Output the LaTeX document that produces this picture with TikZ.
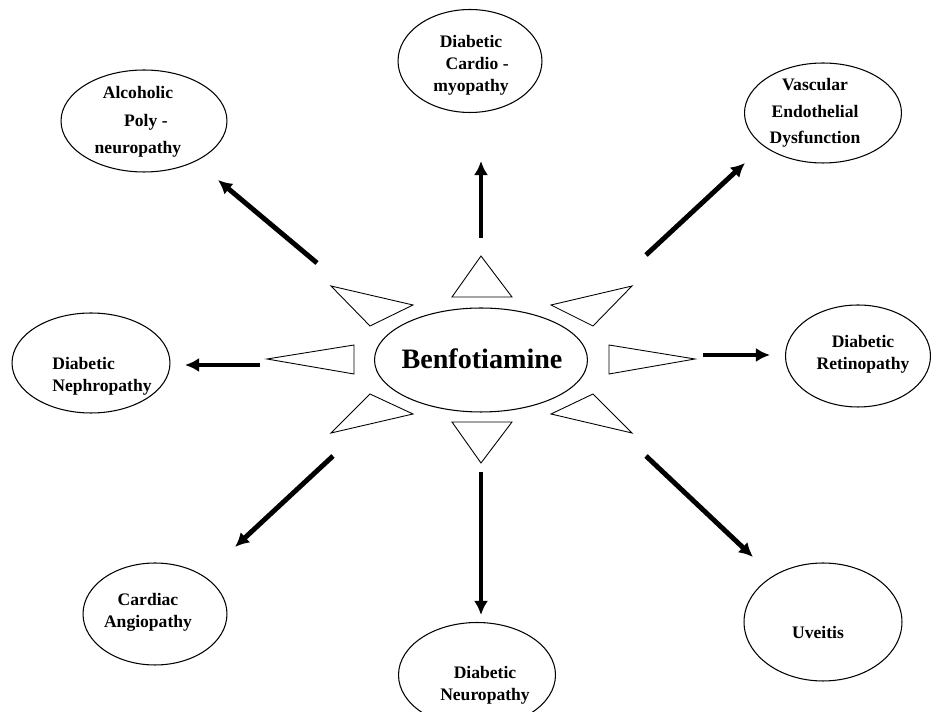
\documentclass[tikz,border=0pt]{standalone}
\usepackage{fontspec}
\setmainfont{Liberation Serif}
\usetikzlibrary{arrows.meta,shapes.geometric}

\begin{document}
\begin{tikzpicture}[x=0.02cm, y=-0.02cm,
	blob/.style={draw, ellipse, line width=0.6pt, inner sep=0pt},
	txt/.style={font=\fontsize{10}{12.5}\selectfont\bfseries, align=center, inner sep=0pt},
	zacke/.style={draw, line width=0.5pt, line join=miter},
	pfeil/.style={line width=2.8pt, -{Latex[length=8pt, width=8pt]}}]
	\useasboundingbox (0,0) rectangle (931,712);
	
	\node[blob, minimum width=4.26cm, minimum height=2.08cm] (mitteE) at (481,360) {};%Zentrum
	\node[font=\fontsize{16}{18}\selectfont\bfseries, inner sep=0pt] (benfo) at (482,359) {Benfotiamine};
	
	%Zacken
	\draw[zacke] (481,256) -- (452,297) -- (512,297) -- cycle;%oben
	\draw[zacke] (331,286) -- (413,305) -- (370,326) -- cycle;%oben links
	\draw[zacke] (632,286) -- (551,305) -- (593,326) -- cycle;%oben rechts
	\draw[zacke] (267,359) -- (354,345) -- (354,374) -- cycle;%links
	\draw[zacke] (695,359) -- (609,345) -- (609,374) -- cycle;%rechts
	\draw[zacke] (331,433) -- (413,414) -- (370,394) -- cycle;%unten links
	\draw[zacke] (632,433) -- (551,414) -- (593,394) -- cycle;%unten rechts
	\draw[zacke] (481,463) -- (452,422) -- (512,422) -- cycle;%unten
	
	%Ellipsen aussen
	\node[blob, minimum width=3.32cm, minimum height=2.04cm] (alcE) at (144,121) {};
	\node[txt] (alc) at (138,122) {Alcoholic\\[3pt]\hspace*{0.9em}Poly -\\[3pt]neuropathy};
	\node[blob, minimum width=2.88cm, minimum height=2.06cm] (cardioE) at (470,61) {};
	\node[txt] (cardio) at (471,65) {Diabetic\\\hspace*{0.7em}Cardio -\\myopathy};
	\node[blob, minimum width=3.14cm, minimum height=2cm] (vascE) at (823,113) {};
	\node[txt] (vasc) at (815,113) {Vascular\\[2.5pt]Endothelial\\[2.5pt]Dysfunction};
	\node[blob, minimum width=3.16cm, minimum height=2cm] (nephE) at (91,363) {};
	\node[txt, align=left] (neph) at (102,376) {Diabetic\\Nephropathy};
	\node[blob, minimum width=2.9cm, minimum height=2.04cm] (retE) at (858,356) {};
	\node[txt] (ret) at (863,354) {Diabetic\\Retinopathy};
	\node[blob, minimum width=2.88cm, minimum height=2.04cm] (cardiacE) at (155,614) {};
	\node[txt] (cardiac) at (148,612) {Cardiac\\Angiopathy};
	\node[blob, minimum width=3.16cm, minimum height=2.36cm] (uvE) at (823,622) {};
	\node[txt] (uv) at (818,632) {Uveitis};
	\node[blob, minimum width=3.14cm, minimum height=2.1cm] (neuroE) at (477,675) {};
	\node[txt] (neuro) at (485,685) {Diabetic\\Neuropathy};
	
	%Pfeile
	\coordinate (oA) at (481,238); \coordinate (oB) at (481,161);
	\coordinate (olA) at (317,263); \coordinate (olB) at (218,180);
	\coordinate (orA) at (646,255); \coordinate (orB) at (745,163);
	\coordinate (lA) at (260,365); \coordinate (lB) at (185,365);
	\coordinate (rA) at (703,355); \coordinate (rB) at (770,355);
	\coordinate (ulA) at (333,456); \coordinate (ulB) at (235,547);
	\coordinate (urA) at (646,456); \coordinate (urB) at (753,557);
	\coordinate (uA) at (481,472); \coordinate (uB) at (481,615);
	\draw[pfeil] (oA) -- (oB);
	\draw[pfeil] (olA) -- (olB);
	\draw[pfeil] (orA) -- (orB);
	\draw[pfeil] (lA) -- (lB);
	\draw[pfeil] (rA) -- (rB);
	\draw[pfeil] (ulA) -- (ulB);
	\draw[pfeil] (urA) -- (urB);
	\draw[pfeil] (uA) -- (uB);
	
\end{tikzpicture}
\end{document}
